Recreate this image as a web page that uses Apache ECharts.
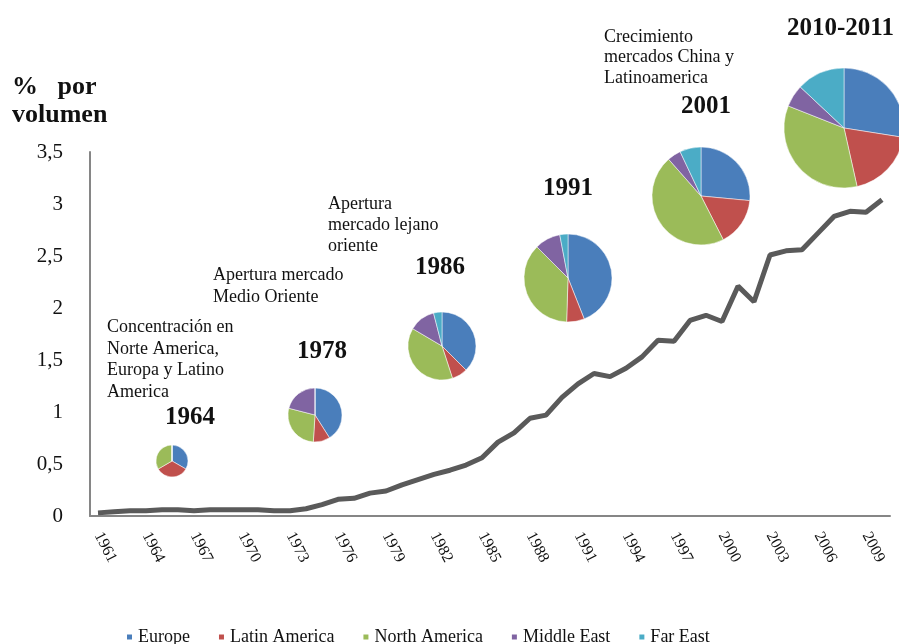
<!DOCTYPE html>
<html>
<head>
<meta charset="utf-8">
<script src="https://cdn.jsdelivr.net/npm/echarts@6/dist/echarts.min.js"></script>
<style>
  html, body { margin: 0; padding: 0; background: #fff; }
  #main { width: 899px; height: 644px; }
</style>
</head>
<body>
<div id="main"></div>
<script>
var years = ["1961","1962","1963","1964","1965","1966","1967","1968","1969","1970",
  "1971","1972","1973","1974","1975","1976","1977","1978","1979","1980",
  "1981","1982","1983","1984","1985","1986","1987","1988","1989","1990",
  "1991","1992","1993","1994","1995","1996","1997","1998","1999","2000",
  "2001","2002","2003","2004","2005","2006","2007","2008","2009","2010"];
var volumen = [0.03,0.04,0.05,0.05,0.06,0.06,0.05,0.06,0.06,0.06,
  0.06,0.05,0.05,0.07,0.11,0.16,0.17,0.22,0.24,0.30,
  0.35,0.40,0.44,0.49,0.56,0.71,0.80,0.94,0.97,1.14,
  1.27,1.37,1.34,1.42,1.53,1.69,1.68,1.88,1.93,1.87,
  2.21,2.06,2.51,2.55,2.56,2.72,2.88,2.93,2.92,3.04];

var regiones = ["Europe", "Latin America", "North America", "Middle East", "Far East"];
var colores = ["#4a7ebb", "#c0504d", "#9bbb59", "#8064a2", "#4bacc6"];

// % de cada region en cada año (orden = regiones)
var pie1964 = [33.3, 33.3, 33.4, 0, 0];
var pie1978 = [41, 10, 28, 21, 0];
var pie1986 = [37.5, 7.5, 38.5, 12.5, 4];
var pie1991 = [44, 6.5, 37, 9.5, 3];
var pie2001 = [26.5, 16, 46, 4.5, 7];
var pie2010 = [27.5, 19, 34.5, 6, 13];

var serif = "'Liberation Serif', 'DejaVu Serif', serif";

function pieSerie(vals, center, r) {
  return {
    type: "pie",
    animation: false,
    silent: true,
    center: center,
    radius: r,
    startAngle: 90,
    label: { show: false },
    labelLine: { show: false },
    itemStyle: { borderColor: "#fff", borderWidth: 0.5 },
    data: vals.map(function (v, i) { return { name: regiones[i], value: v }; })
  };
}

function txt(x, y, s, size, bold, lh) {
  return {
    type: "text", left: x, top: y,
    style: {
      text: s, fill: "#111", font: (bold ? "bold " : "") + size + "px " + serif,
      lineHeight: lh || Math.round(size * 1.2)
    }
  };
}

var chart = echarts.init(document.getElementById("main"));
var opt = {
  animation: false,
  color: colores,
  grid: { left: 90, right: 9, top: 152, bottom: 128 },
  legend: {
    data: regiones,
    top: 623,
    left: 120,
    icon: "rect",
    itemWidth: 7,
    itemHeight: 7,
    itemGap: 27,
    textStyle: { fontFamily: serif, fontSize: 18, color: "#111" }
  },
  xAxis: {
    type: "category",
    boundaryGap: true,
    data: years,
    axisLine: { lineStyle: { color: "#868686", width: 2 } },
    axisTick: { show: false },
    axisLabel: {
      interval: 2,
      rotate: -63,
      margin: 17,
      fontFamily: serif,
      fontSize: 16,
      color: "#111"
    }
  },
  yAxis: {
    type: "value",
    min: 0,
    max: 3.5,
    interval: 0.5,
    splitLine: { show: false },
    axisLine: { show: true, lineStyle: { color: "#868686", width: 2 } },
    axisTick: { show: false },
    axisLabel: {
      margin: 27,
      fontFamily: serif,
      fontSize: 21,
      color: "#111",
      formatter: function (v) { return String(v).replace(".", ","); }
    }
  },
  graphic: [
    txt(12, 73, "%   por\nvolumen", 26, true, 28),
    txt(107, 317, "Concentración en\nNorte America,\nEuropa y Latino\nAmerica", 18, false, 21.5),
    txt(213, 264, "Apertura mercado\nMedio Oriente", 18, false, 22),
    txt(328, 194, "Apertura\nmercado lejano\noriente", 18, false, 21),
    txt(604, 27, "Crecimiento\nmercados China y\nLatinoamerica", 18, false, 20.5),
    txt(165, 403, "1964", 25, true),
    txt(297, 337, "1978", 25, true),
    txt(415, 253, "1986", 25, true),
    txt(543, 174, "1991", 25, true),
    txt(681, 92, "2001", 25, true),
    txt(787, 14, "2010-2011", 25, true)
  ],
  series: [
    {
      name: "volumen",
      type: "line",
      symbol: "none",
      silent: true,
      data: volumen,
      lineStyle: { color: "#5a5a5a", width: 5 },
      z: 1
    },
    pieSerie(pie1964, [172, 461], 16),
    pieSerie(pie1978, [315, 415], 27),
    pieSerie(pie1986, [442, 346], 34),
    pieSerie(pie1991, [568, 278], 44),
    pieSerie(pie2001, [701, 196], 49),
    pieSerie(pie2010, [844, 128], 60)
  ]
};
chart.setOption(opt);
</script>
</body>
</html>
